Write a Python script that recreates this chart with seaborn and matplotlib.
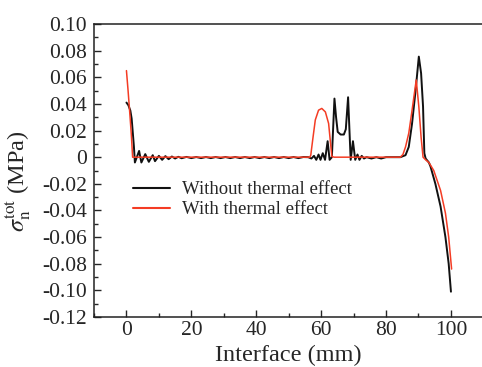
import numpy as np
import pandas as pd
import matplotlib
matplotlib.use("Agg")
import matplotlib.pyplot as plt
import seaborn as sns
from matplotlib.ticker import MultipleLocator

# ---- data ----
x_without = [0, 0.6, 1.2, 1.6, 2.0, 2.3, 2.6, 3.2, 3.9, 4.6, 5.8, 6.9, 8.1, 8.8, 10.0, 11.0,
             12.0, 13.0, 14.0, 15.0, 16.0, 17.0, 18.5, 20.0, 21.5, 23.0, 24.5, 26.0, 27.5,
             29.0, 30.5, 32.0, 33.5, 35.0, 36.5, 38.0, 39.5, 41.0, 42.5, 44.0, 45.5, 47.0,
             48.5, 50.0, 51.5, 53.0, 54.5, 56.0, 57.0, 57.8, 58.5, 59.2, 59.8, 60.5, 61.2,
             62.0, 62.6, 63.3, 64.1, 64.6, 65.1, 66.0, 67.0, 67.6, 68.3, 69.1, 69.8, 70.5,
             71.2, 71.8, 72.5, 73.2, 74.0, 75.5, 77.0, 78.5, 80.0, 82.0, 84.4, 86.0, 87.0,
             88.0, 89.1, 90.1, 90.8, 91.4, 91.8, 92.2, 93.2, 93.7, 95.2, 96.8, 98.3, 99.3, 100.0]
y_without = [0.041, 0.039, 0.035, 0.029, 0.017, 0.008, -0.004, 0.000, 0.0047, -0.004, 0.0023,
             -0.0035, 0.0015, -0.003, 0.001, -0.002, 0.0008, -0.0015, 0.0005, -0.001, 0.0003,
             -0.0008, 0.0002, -0.0007, 0.0001, -0.0007, 0.0001, -0.0007, 0.0001, -0.0007,
             0.0001, -0.0007, 0.0001, -0.0007, 0.0001, -0.0007, 0.0001, -0.0007, 0.0001,
             -0.0007, 0.0001, -0.0007, 0.0001, -0.0007, 0.0001, -0.0007, 0.0001, 0.000,
             -0.001, 0.001, -0.002, 0.002, -0.002, 0.003, -0.002, 0.012, -0.002, 0.000,
             0.044, 0.030, 0.019, 0.017, 0.017, 0.021, 0.045, -0.002, 0.012, -0.002, 0.002,
             -0.002, 0.001, -0.001, 0.000, -0.001, 0.000, -0.001, 0.000, 0.000, 0.000,
             0.0015, 0.0077, 0.025, 0.050, 0.0755, 0.063, 0.038, 0.003, -0.001, -0.004,
             -0.007, -0.020, -0.037, -0.060, -0.080, -0.101]

x_with = [0, 0.5, 1.0, 1.5, 1.9, 10, 20, 30, 40, 50, 56.5, 56.8, 57.5, 58.2, 59.2, 60.2,
          61.3, 62.3, 62.8, 63.3, 64.0, 70, 80, 84.4, 85.2, 86.0, 87.0, 88.0, 89.3, 90.1,
          90.8, 91.4, 92.2, 93.2, 94.7, 96.8, 98.3, 99.3, 100.2]
y_with = [0.065, 0.050, 0.034, 0.017, 0.000, 0.000, 0.000, 0.000, 0.000, 0.000, 0.000,
          0.0015, 0.015, 0.028, 0.0353, 0.0366, 0.034, 0.0253, 0.0128, 0.0005, 0.000,
          0.000, 0.000, 0.000, 0.002, 0.0077, 0.018, 0.035, 0.058, 0.038, 0.015, 0.000,
          -0.002, -0.004, -0.010, -0.025, -0.042, -0.060, -0.084]

labels = ["Without thermal effect", "With thermal effect"]
x_ticks = [0, 20, 40, 60, 80, 100]
y_ticks = [0.10, 0.08, 0.06, 0.04, 0.02, 0, -0.02, -0.04, -0.06, -0.08, -0.10, -0.12]
y_tick_labels = ["0.10", "0.08", "0.06", "0.04", "0.02", "0", "-0.02", "-0.04", "-0.06",
                 "-0.08", "-0.10", "-0.12"]

df = pd.concat([
    pd.DataFrame({"x": x_without, "y": y_without, "series": labels[0]}),
    pd.DataFrame({"x": x_with, "y": y_with, "series": labels[1]}),
], ignore_index=True)

# ---- style ----
sns.set_style("ticks")
plt.rcParams["font.family"] = ["Liberation Serif", "DejaVu Serif"]
plt.rcParams["mathtext.fontset"] = "stix"

fig = plt.figure(figsize=(4.82, 3.67), dpi=100)
ax = fig.add_axes([94 / 482, 50 / 367, (483.4 - 94) / 482, 293 / 367])

sns.lineplot(data=df, x="x", y="y", hue="series", sort=False, estimator=None,
             palette={labels[0]: "#111111", labels[1]: "#f43c24"},
             ax=ax, legend=True)
for ln, lw in zip(ax.lines, [1.4, 1.1]):
    ln.set_linewidth(lw)

ax.set_xlim(-10, 110)
ax.set_ylim(-0.12, 0.10)
ax.set_xticks(x_ticks)
ax.set_yticks(y_ticks)
ax.set_yticklabels(y_tick_labels)
ax.xaxis.set_minor_locator(MultipleLocator(10))
ax.yaxis.set_minor_locator(MultipleLocator(0.01))
ax.tick_params(which="major", direction="in", length=5, width=1, labelsize=15.5)
ax.tick_params(axis="y", which="major", pad=5)
ax.tick_params(axis="x", which="major", pad=3)
ax.tick_params(which="minor", direction="in", length=3, width=1)
ax.tick_params(top=False, right=False, which="both")
for s in ["left", "bottom", "top", "right"]:
    ax.spines[s].set_linewidth(1.1)
    ax.spines[s].set_color("#222222")

ax.set_xlabel("Interface (mm)", fontsize=17.5, labelpad=3.5)
ax.set_ylabel(r"$\sigma_{\rm n}^{\rm tot}$ (MPa)", fontsize=17.5)
ax.yaxis.set_label_coords(-0.157, 0.465)

h, l = ax.get_legend_handles_labels()
ax.legend(h, l, loc="center left", bbox_to_anchor=(0.10, 0.40), frameon=False,
          fontsize=13.5, handlelength=2.0, handletextpad=0.6, labelspacing=0.15,
          borderpad=0, borderaxespad=0)

fig.savefig("out.png", dpi=100)
